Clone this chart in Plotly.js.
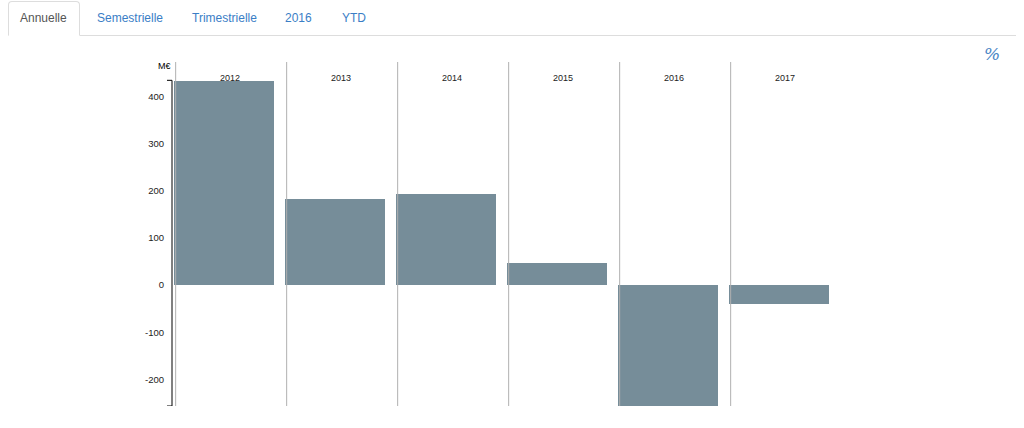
<!DOCTYPE html>
<html>
<head>
<meta charset="utf-8">
<script src="https://cdn.plot.ly/plotly-3.0.1.min.js"></script>
<style>
  html, body { margin:0; padding:0; background:#fff; width:1024px; height:428px; overflow:hidden; font-family:"Liberation Sans", Arial, sans-serif; }
  #tabs { position:absolute; left:8px; top:0; width:1008px; height:35px; border-bottom:1px solid #ddd; z-index:2; }
  .tab { position:absolute; top:2px; height:33px; line-height:32px; font-size:12px; color:#3a7ec6; white-space:nowrap; }
  .tabbox { position:absolute; left:0; top:1px; width:72px; height:35px; border:1px solid #ddd; border-bottom:1px solid #fff; border-radius:4px 4px 0 0; background:#fff; box-sizing:border-box; }
  .tab.active { color:#555; }
  #pct { position:absolute; left:984px; top:44px; font-family:"DejaVu Serif", serif; font-style:italic; font-size:17px; color:#4a86c5; z-index:2; }
  #chart { position:absolute; left:0; top:0; width:1024px; height:428px; }
</style>
</head>
<body>
<div id="chart"></div>
<div id="tabs"><div class="tabbox"></div></div>
<div id="pct">%</div>
<script>
// ---- data ----
var tabLabels = ["Annuelle", "Semestrielle", "Trimestrielle", "2016", "YTD"];
var categories = ["2012", "2013", "2014", "2015", "2016", "2017"];
var values = [432, 182, 193, 47, -256, -40];
var yTickVals = [-200, -100, 0, 100, 200, 300, 400];
var yTickText = ["-200", "-100", "0", "100", "200", "300", "400"];
var unitLabel = "M€";

// ---- tabs ----
var tabLeft = [12, 89, 184, 277, 334];
var tabsDiv = document.getElementById("tabs");
tabLabels.forEach(function (t, i) {
  var d = document.createElement("div");
  d.className = "tab" + (i === 0 ? " active" : "");
  d.style.left = tabLeft[i] + "px";
  d.textContent = t;
  tabsDiv.appendChild(d);
});

// ---- chart ----
var idx = categories.map(function (c, i) { return i; });
var yMin = Math.min.apply(null, values);
var yMax = Math.max.apply(null, values);

var trace = {
  type: "bar",
  x: idx,
  y: values,
  width: 0.9,
  offset: 0,
  marker: { color: "#768d99", line: { width: 0 } },
  hoverinfo: "skip",
  text: categories,
  textposition: "none"
};

var shapes = [];
idx.forEach(function (i) {
  shapes.push({ type: "line", xref: "x", yref: "paper", x0: i + 0.015, x1: i + 0.015, y0: 0, y1: 1,
    line: { color: "#b0b0b0", width: 1 } });
});
shapes.push({ type: "line", xref: "paper", yref: "y", x0: 0, x1: 0, y0: yMin, y1: yMax + 2, line: { color: "#000", width: 1 } });
shapes.push({ type: "line", xref: "paper", yref: "y", x0: -0.006, x1: 0, y0: yMax + 2, y1: yMax + 2, line: { color: "#000", width: 1 } });
shapes.push({ type: "line", xref: "paper", yref: "y", x0: -0.006, x1: 0, y0: yMin, y1: yMin, line: { color: "#000", width: 1 } });

var annotations = categories.map(function (c, i) {
  return { x: i + 0.5, y: 0.953, xref: "x", yref: "paper", text: c, showarrow: false,
    xanchor: "center", yanchor: "middle", font: { size: 9, color: "#222", family: "Liberation Sans, Arial, sans-serif" } };
});
annotations.push({ x: 0, y: 0.988, xref: "paper", yref: "paper", text: unitLabel, showarrow: false,
  xanchor: "right", yanchor: "middle", xshift: 1, font: { size: 9, color: "#000", family: "Liberation Sans, Arial, sans-serif" } });

var pxPerUnit = 111;
var plotW = 1024 - 172 - 18;
var layout = {
  width: 1024, height: 428,
  margin: { l: 172, r: 18, t: 62, b: 22, pad: 0 },
  paper_bgcolor: "rgba(0,0,0,0)",
  plot_bgcolor: "rgba(0,0,0,0)",
  showlegend: false,
  bargap: 0,
  xaxis: { range: [-2 / pxPerUnit, plotW / pxPerUnit - 2 / pxPerUnit], showgrid: false, zeroline: false,
    showticklabels: false, showline: false, ticks: "", fixedrange: true },
  yaxis: { range: [yMin, yMin + 344 / 0.472], showgrid: false, zeroline: false, showline: false,
    tickmode: "array", tickvals: yTickVals, ticktext: yTickText, ticks: "outside", ticklen: 5,
    tickcolor: "rgba(0,0,0,0)", tickfont: { size: 9.5, color: "#222", family: "Liberation Sans, Arial, sans-serif" },
    fixedrange: true },
  shapes: shapes,
  annotations: annotations,
  font: { family: "Liberation Sans, Arial, sans-serif" }
};

Plotly.newPlot("chart", [trace], layout, { displayModeBar: false, staticPlot: true });
</script>
</body>
</html>
